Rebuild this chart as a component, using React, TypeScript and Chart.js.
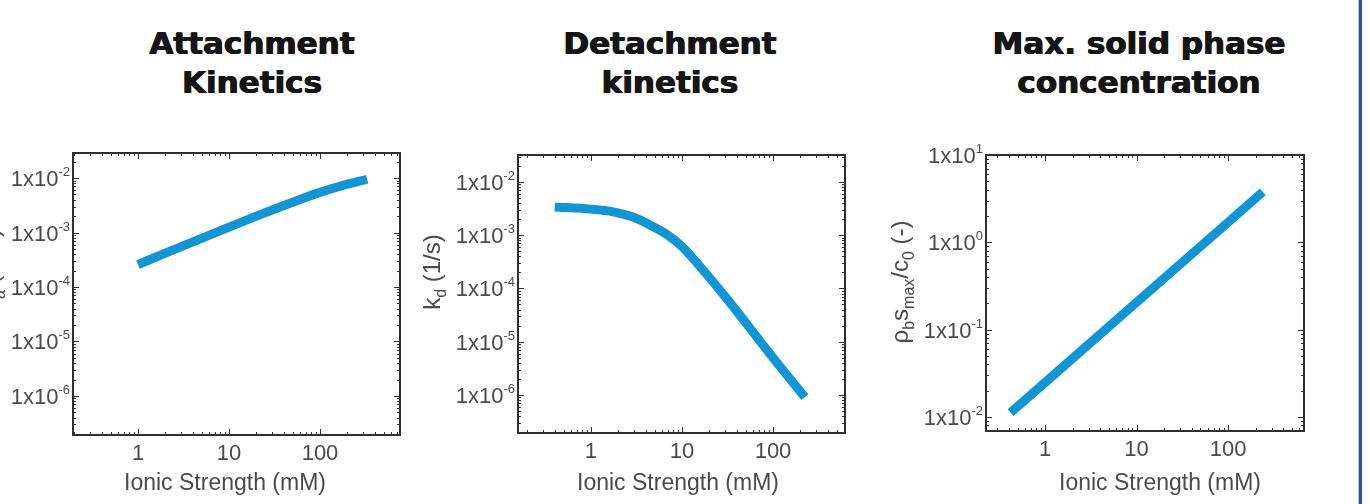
import { useEffect, useRef } from 'react';
import { Chart, registerables } from 'chart.js';

Chart.register(...registerables);

// ---------- data ----------
const panelTitles: string[][] = [
  ['Attachment', 'Kinetics'],
  ['Detachment', 'kinetics'],
  ['Max. solid phase', 'concentration'],
];
const xAxisTitle = 'Ionic Strength (mM)';
const tickMantissa = '1x10';
const xTickValues = [1, 10, 100];
const yTicksKinetics = [1e-6, 1e-5, 1e-4, 1e-3, 1e-2];
const yTicksSolid = [1e-2, 1e-1, 1e0, 1e1];

const attachIonic = [1, 2, 5, 10, 20, 50, 100, 200, 330];
const attachKa = [2.57e-4, 4.2e-4, 7.8e-4, 1.26e-3, 2.0e-3, 3.6e-3, 5.45e-3, 7.7e-3, 9.5e-3];

const detachIonic = [0.4, 1, 1.75, 2.9, 4.8, 7, 10, 16, 32, 100, 224];
const detachKd = [3.39e-3, 3.09e-3, 2.75e-3, 2.19e-3, 1.45e-3, 1.0e-3, 6.17e-4, 2.51e-4, 6.03e-5, 5.0e-6, 9.1e-7];

const solidIonic = [0.42, 1, 10, 100, 240];
const solidSmax = [0.0112, 0.0248, 0.205, 1.69, 3.79];

type Seg = { t: string; sub?: boolean };
const yTitleAttach: Seg[] = [{ t: 'k' }, { t: 'a', sub: true }, { t: ' (m/s)' }];
const yTitleDetach: Seg[] = [{ t: 'k' }, { t: 'd', sub: true }, { t: ' (1/s)' }];
const yTitleSolid: Seg[] = [
  { t: 'ρ' }, { t: 'b', sub: true }, { t: 's' }, { t: 'max', sub: true },
  { t: '/c' }, { t: '0', sub: true }, { t: ' (-)' },
];

// ---------- styles / layout ----------
const FONT = '"Liberation Sans", Arial, Helvetica, sans-serif';
const TEXT_COLOR = '#4a4a4a';
const LINE_COLOR = '#1395d5';
const FRAME_COLOR = '#2f2f2f';

type Panel = {
  canvasLeft: number; canvasWidth: number;
  area: { left: number; right: number; top: number; bottom: number };
  xMin: number; xMax: number; yMin: number; yMax: number;
  xs: number[]; ys: number[]; yTicks: number[];
  yTitle: Seg[]; yTitleX: number; yTitleY: number;
  xTitleX: number; titleX: number; smooth: boolean;
};

const panels: Panel[] = [
  {
    canvasLeft: -30, canvasWidth: 470,
    area: { left: 73, right: 400, top: 153, bottom: 435 },
    xMin: 0.193, xMax: 757, yMin: 1.92e-7, yMax: 0.0288,
    xs: attachIonic, ys: attachKa, yTicks: yTicksKinetics,
    yTitle: yTitleAttach, yTitleX: -1, yTitleY: 270,
    xTitleX: 225, titleX: 252, smooth: true,
  },
  {
    canvasLeft: 400, canvasWidth: 480,
    area: { left: 518, right: 845, top: 155, bottom: 433 },
    xMin: 0.158, xMax: 618, yMin: 1.93e-7, yMax: 0.0321,
    xs: detachIonic, ys: detachKd, yTicks: yTicksKinetics,
    yTitle: yTitleDetach, yTitleX: 440, yTitleY: 272,
    xTitleX: 678, titleX: 670, smooth: true,
  },
  {
    canvasLeft: 880, canvasWidth: 480,
    area: { left: 986, right: 1304, top: 155, bottom: 431 },
    xMin: 0.226, xMax: 677, yMin: 0.0069, yMax: 10,
    xs: solidIonic, ys: solidSmax, yTicks: yTicksSolid,
    yTitle: yTitleSolid, yTitleX: 908, yTitleY: 282,
    xTitleX: 1160, titleX: 1139, smooth: false,
  },
];

function drawRich(ctx: CanvasRenderingContext2D, segs: Seg[], x: number, y: number, rotate: boolean, size: number) {
  ctx.save();
  ctx.translate(x, y);
  if (rotate) ctx.rotate(-Math.PI / 2);
  ctx.textAlign = 'left';
  ctx.textBaseline = 'alphabetic';
  const subSize = Math.round(size * 0.65);
  let total = 0;
  const widths: number[] = [];
  for (const s of segs) {
    ctx.font = `${s.sub ? subSize : size}px ${FONT}`;
    const w = ctx.measureText(s.t).width;
    widths.push(w);
    total += w;
  }
  let cx = -total / 2;
  segs.forEach((s, i) => {
    ctx.font = `${s.sub ? subSize : size}px ${FONT}`;
    ctx.fillText(s.t, cx, s.sub ? size * 0.25 : 0);
    cx += widths[i];
  });
  ctx.restore();
}

function logMarks(min: number, max: number) {
  const out: { v: number; major: boolean }[] = [];
  for (let e = Math.floor(Math.log10(min)); e <= Math.ceil(Math.log10(max)); e++) {
    for (let k = 1; k <= 9; k++) {
      const v = k * Math.pow(10, e);
      if (v >= min * 0.9999 && v <= max * 1.0001) out.push({ v, major: k === 1 });
    }
  }
  return out;
}

const decorPlugin = {
  id: 'decor',
  afterDraw(chart: any, _args: any, o: any) {
    const ctx: CanvasRenderingContext2D = chart.ctx;
    const a = chart.chartArea;
    const xs = chart.scales.x;
    const ys = chart.scales.y;
    ctx.save();
    // inward tick marks on all four sides
    ctx.strokeStyle = FRAME_COLOR;
    ctx.lineWidth = 1;
    ctx.beginPath();
    for (const m of logMarks(xs.min, xs.max)) {
      const px = Math.round(xs.getPixelForValue(m.v)) + 0.5;
      const L = m.major ? 6 : 3;
      ctx.moveTo(px, a.bottom); ctx.lineTo(px, a.bottom - L);
      ctx.moveTo(px, a.top); ctx.lineTo(px, a.top + L);
    }
    for (const m of logMarks(ys.min, ys.max)) {
      const py = Math.round(ys.getPixelForValue(m.v)) + 0.5;
      const L = m.major ? 6 : 3;
      ctx.moveTo(a.left, py); ctx.lineTo(a.left + L, py);
      ctx.moveTo(a.right, py); ctx.lineTo(a.right - L, py);
    }
    ctx.stroke();
    // frame
    ctx.lineWidth = 2;
    ctx.strokeRect(a.left, a.top, a.right - a.left, a.bottom - a.top);
    // y tick labels 1x10^n
    ctx.fillStyle = TEXT_COLOR;
    ctx.textBaseline = 'alphabetic';
    for (const t of ys.ticks) {
      const py = ys.getPixelForValue(t.value);
      const exp = String(Math.round(Math.log10(t.value)));
      ctx.font = `13px ${FONT}`;
      const ew = ctx.measureText(exp).width;
      const xr = a.left - 3 - ew;
      ctx.textAlign = 'left';
      ctx.fillText(exp, xr, py - 2);
      ctx.font = `22px ${FONT}`;
      ctx.textAlign = 'right';
      ctx.fillText(tickMantissa, xr, py + 8);
    }
    // axis titles
    drawRich(ctx, o.yTitle, o.yTitleX, o.yTitleY, true, 24);
    drawRich(ctx, [{ t: xAxisTitle }], o.xTitleX, 490, false, 23);
    ctx.restore();
  },
};

function makeConfig(p: Panel): any {
  const left = p.area.left - p.canvasLeft;
  const right = p.area.right - p.canvasLeft;
  return {
    type: 'line',
    data: {
      datasets: [
        {
          data: p.xs.map((x, i) => ({ x, y: p.ys[i] })),
          borderColor: LINE_COLOR,
          borderWidth: 9,
          pointRadius: 0,
          fill: false,
          cubicInterpolationMode: p.smooth ? 'monotone' : 'default',
          tension: 0,
        },
      ],
    },
    options: {
      animation: false,
      responsive: false,
      maintainAspectRatio: false,
      events: [],
      layout: { padding: { top: p.area.top, right: p.canvasWidth - right, bottom: 0, left: 0 } },
      plugins: {
        legend: { display: false },
        tooltip: { enabled: false },
        title: { display: false },
        decor: {
          yTitle: p.yTitle,
          yTitleX: p.yTitleX - p.canvasLeft,
          yTitleY: p.yTitleY,
          xTitleX: p.xTitleX - p.canvasLeft,
        },
      },
      scales: {
        x: {
          type: 'logarithmic',
          position: 'bottom',
          min: p.xMin,
          max: p.xMax,
          bounds: 'data',
          grid: { display: false, drawTicks: false },
          border: { display: false },
          ticks: {
            color: TEXT_COLOR,
            font: { family: FONT, size: 22 },
            padding: 6,
            maxRotation: 0,
            autoSkip: false,
            callback: (v: number) => String(v),
          },
          afterBuildTicks: (s: any) => {
            s.ticks = xTickValues.map((v) => ({ value: v }));
          },
          afterFit: (s: any) => {
            s.height = 504 - p.area.bottom;
          },
        },
        y: {
          type: 'logarithmic',
          position: 'left',
          min: p.yMin,
          max: p.yMax,
          bounds: 'data',
          grid: { display: false, drawTicks: false },
          border: { display: false },
          ticks: { display: false },
          afterBuildTicks: (s: any) => {
            s.ticks = p.yTicks.map((v) => ({ value: v }));
          },
          afterFit: (s: any) => {
            s.width = left;
          },
        },
      },
    },
    plugins: [decorPlugin],
  };
}

function PanelChart({ p }: { p: Panel }) {
  const ref = useRef<HTMLCanvasElement>(null);
  useEffect(() => {
    if (!ref.current) return;
    const chart = new Chart(ref.current, makeConfig(p));
    return () => chart.destroy();
  }, [p]);
  return (
    <canvas
      ref={ref}
      width={p.canvasWidth}
      height={504}
      style={{ position: 'absolute', left: p.canvasLeft, top: 0, width: p.canvasWidth, height: 504 }}
    />
  );
}

export default function App() {
  return (
    <div
      style={{
        position: 'fixed', left: 0, top: 0, width: 1370, height: 504,
        overflow: 'hidden', background: '#ffffff',
      }}
    >
      {panels.map((p, i) => (
        <div
          key={'t' + i}
          style={{
            position: 'absolute', left: p.titleX - 220, width: 440, top: 24,
            textAlign: 'center', fontFamily: '"DejaVu Sans", sans-serif', fontWeight: 'bold',
            fontSize: 31, lineHeight: '39px', color: '#151515', whiteSpace: 'nowrap',
            textShadow: '0.6px 0 0 #151515, -0.6px 0 0 #151515',
          }}
        >
          {panelTitles[i].map((line, j) => (
            <div key={j}>{line}</div>
          ))}
        </div>
      ))}
      {panels.map((p, i) => (
        <PanelChart key={'c' + i} p={p} />
      ))}
      <div style={{ position: 'absolute', left: 1358, top: 0, width: 1, height: 504, background: '#b7c6dc' }} />
      <div style={{ position: 'absolute', left: 1359, top: 0, width: 3, height: 504, background: '#2b5592' }} />
    </div>
  );
}
